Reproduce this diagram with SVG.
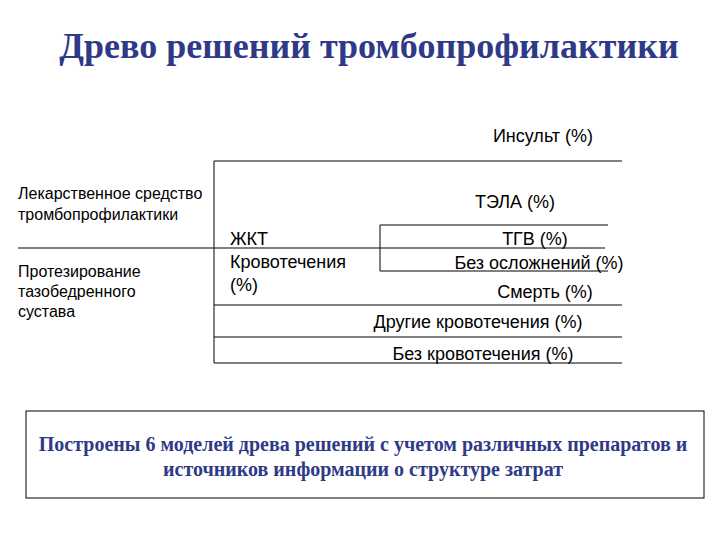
<svg xmlns="http://www.w3.org/2000/svg" width="720" height="540" viewBox="0 0 720 540">
<style>
.t{font-family:"Liberation Sans",Arial,sans-serif;fill:#000}
.s{font-size:16px}.m{font-size:18px}
line{stroke:#000;stroke-width:1}
</style>
<rect width="720" height="540" fill="#fff"/>
<text x="369" y="58" text-anchor="middle" font-family="Liberation Serif,serif" font-weight="bold" font-size="36" fill="#2e3a87">Древо решений тромбопрофилактики</text>
<g id="connectors">
<line x1="214" y1="161" x2="214" y2="363"/>
<line x1="214" y1="161" x2="622" y2="161"/>
<line x1="18" y1="248" x2="380" y2="248"/>
<line x1="380" y1="225" x2="380" y2="271"/>
<line x1="380" y1="225" x2="608" y2="225"/>
<line x1="380" y1="248" x2="605" y2="248"/>
<line x1="380" y1="271" x2="608" y2="271"/>
<line x1="214" y1="305" x2="622" y2="305"/>
<line x1="214" y1="337" x2="622" y2="337"/>
<line x1="214" y1="363" x2="622" y2="363"/>
</g>
<g id="n-drug"><text class="t s" x="18" y="199">Лекарственное средство</text><text class="t s" x="18" y="220">тромбопрофилактики</text></g>
<g id="n-hip"><text class="t s" x="18" y="277">Протезирование</text><text class="t s" x="18" y="297">тазобедренного</text><text class="t s" x="18" y="317">сустава</text></g>
<g id="n-gi"><text class="t m" x="230" y="245">ЖКТ</text><text class="t m" x="230" y="268">Кровотечения</text><text class="t m" x="230" y="291">(%)</text></g>
<g id="n-stroke"><text class="t m" x="543" y="142" text-anchor="middle">Инсульт (%)</text></g>
<g id="n-pe"><text class="t m" x="515" y="208" text-anchor="middle">ТЭЛА (%)</text></g>
<g id="n-dvt"><text class="t m" x="535" y="245" text-anchor="middle">ТГВ (%)</text></g>
<g id="n-none"><text class="t m" x="539" y="269" text-anchor="middle">Без осложнений (%)</text></g>
<g id="n-death"><text class="t m" x="545" y="298" text-anchor="middle">Смерть (%)</text></g>
<g id="n-other"><text class="t m" x="478" y="328" text-anchor="middle">Другие кровотечения (%)</text></g>
<g id="n-nobleed"><text class="t m" x="483" y="360" text-anchor="middle">Без кровотечения (%)</text></g>
<g id="n-note"><rect x="26" y="411" width="678" height="87" fill="#fff" stroke="#000"/>
<text x="363" y="451" text-anchor="middle" font-family="Liberation Serif,serif" font-weight="bold" font-size="20" fill="#2e3a87">Построены 6 моделей древа решений с учетом различных препаратов и</text>
<text x="363" y="476" text-anchor="middle" font-family="Liberation Serif,serif" font-weight="bold" font-size="20" fill="#2e3a87">источников информации о структуре затрат</text></g>
</svg>
